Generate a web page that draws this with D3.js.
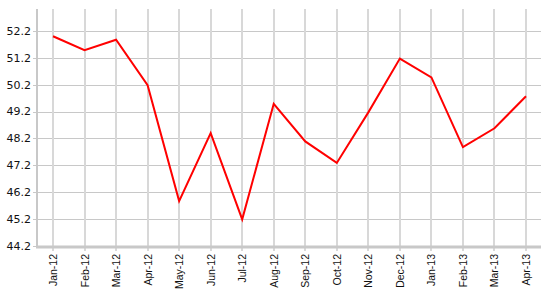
<!DOCTYPE html>
<html>
<head>
<meta charset="utf-8">
<script src="https://cdn.jsdelivr.net/npm/d3@7"></script>
<style>
  body { margin: 0; background: #fff; }
  text { font-family: "DejaVu Sans", Verdana, sans-serif; }
</style>
</head>
<body>
<div class="chart"></div>
<script>
var months = ['Jan-12', 'Feb-12', 'Mar-12', 'Apr-12', 'May-12', 'Jun-12', 'Jul-12', 'Aug-12',
  'Sep-12', 'Oct-12', 'Nov-12', 'Dec-12', 'Jan-13', 'Feb-13', 'Mar-13', 'Apr-13'];
var values = [52.0, 51.48, 51.87, 50.18, 45.87, 48.4, 45.19, 49.49,
  48.09, 47.29, 49.17, 51.17, 50.47, 47.88, 48.58, 49.77];
var yTicks = [44.2, 45.2, 46.2, 47.2, 48.2, 49.2, 50.2, 51.2, 52.2];

var margin = {top: 9, right: 12, bottom: 46, left: 37};
var width = 553 - margin.left - margin.right;
var height = 292 - margin.top - margin.bottom;

var svg = d3.select('.chart')
  .append('svg')
    .attr('width', 553)
    .attr('height', 292)
  .append('g')
    .attr('transform', `translate(${margin.left}, ${margin.top})`);

var x = d3.scalePoint()
  .domain(months)
  .range([16, 489]);

var y = d3.scaleLinear()
  .domain([44.2, 53.015])
  .range([height, 0]);

// horizontal grid (with small tick left of the axis)
svg.selectAll('line.hgrid')
  .data(yTicks)
  .enter()
  .append('line')
    .attr('class', 'hgrid')
    .attr('x1', -4).attr('x2', width)
    .attr('y1', d => Math.round(y(d)) + 0.5)
    .attr('y2', d => Math.round(y(d)) + 0.5)
    .attr('stroke', '#c8c8c8');

// vertical grid
svg.selectAll('line.vgrid')
  .data(months)
  .enter()
  .append('line')
    .attr('class', 'vgrid')
    .attr('x1', d => Math.round(x(d)))
    .attr('x2', d => Math.round(x(d)))
    .attr('y1', 0).attr('y2', height + 5)
    .attr('stroke', '#d8d8d8')
    .attr('stroke-width', 2);

// left axis line
svg.append('line')
  .attr('x1', 0).attr('x2', 0)
  .attr('y1', 0).attr('y2', height + 2)
  .attr('stroke', '#c8c8c8')
  .attr('stroke-width', 2);

// bottom axis line
svg.append('line')
  .attr('x1', -1).attr('x2', width)
  .attr('y1', height + 1).attr('y2', height + 1)
  .attr('stroke', '#c8c8c8')
  .attr('stroke-width', 3);

// y labels
svg.selectAll('text.ylab')
  .data(yTicks)
  .enter()
  .append('text')
    .attr('class', 'ylab')
    .attr('x', -6)
    .attr('y', d => y(d))
    .attr('dy', '0.35em')
    .attr('text-anchor', 'end')
    .attr('font-size', 11)
    .attr('fill', '#111')
    .text(d => d.toFixed(1));

// x labels
svg.selectAll('text.xlab')
  .data(months)
  .enter()
  .append('text')
    .attr('class', 'xlab')
    .attr('transform', d => `translate(${x(d) + 4}, ${height + 8}) rotate(-90)`)
    .attr('text-anchor', 'end')
    .attr('font-size', 10.5)
    .style('font-family', '"Liberation Sans", Arial, sans-serif')
    .attr('fill', '#111')
    .text(d => d);

var line = d3.line()
  .x((d, i) => x(months[i]))
  .y(d => y(d));

svg.append('path')
  .datum(values)
  .attr('d', line)
  .attr('fill', 'none')
  .attr('stroke', '#ff0000')
  .attr('stroke-width', 2);
</script>
</body>
</html>
